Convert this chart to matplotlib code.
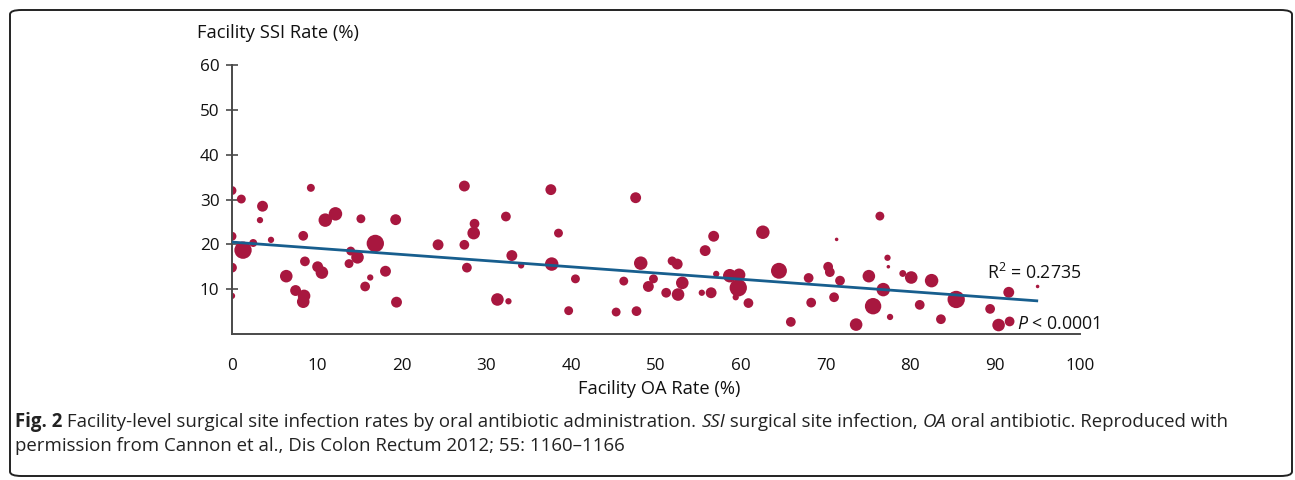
import matplotlib
matplotlib.use("Agg")
import matplotlib.pyplot as plt
from matplotlib.patches import FancyBboxPatch

# ---------------- data ----------------
oa_rate = [0, 1.1, 9.3, 3.6, 3.3, 11.0, 12.2, 15.2, 19.3, 0, 1.3, 2.5, 4.6, 8.4,
           0, 0, 8.6, 6.4, 7.5, 8.5, 8.4, 10.1, 10.6, 14.0, 14.8, 13.8, 16.3,
           15.7, 16.9, 18.1, 19.4, 27.4, 37.6, 32.3, 28.6, 28.5, 38.5, 24.3,
           27.4, 33.0, 34.1, 37.7, 27.7, 40.5, 46.2, 31.3, 32.6, 39.7, 45.3,
           47.6, 56.8, 62.6, 55.8, 48.2, 51.9, 52.5, 49.7, 49.1, 53.1, 51.2,
           52.6, 55.4, 56.5, 57.1, 58.7, 59.8, 59.7, 59.4, 60.9, 64.5, 68.0,
           68.3, 65.9, 47.7, 71.3, 70.3, 70.5, 71.7, 71.0, 76.4, 77.3, 77.4,
           75.1, 76.8, 75.6, 77.6, 73.6, 79.1, 80.1, 82.5, 81.1, 83.6, 85.4,
           89.4, 91.6, 90.4, 91.7, 95.0]
ssi_rate = [32.0, 30.1, 32.6, 28.5, 25.4, 25.4, 26.8, 25.7, 25.5, 21.8, 18.7,
            20.3, 21.0, 21.9, 14.8, 8.5, 16.2, 12.9, 9.7, 8.5, 7.2, 15.0, 13.7,
            18.5, 17.1, 15.7, 12.6, 10.6, 20.2, 14.0, 7.1, 33.0, 32.2, 26.2,
            24.6, 22.5, 22.5, 19.9, 19.9, 17.5, 15.3, 15.6, 14.8, 12.3, 11.8,
            7.7, 7.3, 5.2, 4.9, 30.4, 21.8, 22.7, 18.6, 15.8, 16.3, 15.6, 12.3,
            10.6, 11.4, 9.2, 8.8, 9.2, 9.2, 13.4, 13.0, 13.2, 10.3, 8.2, 6.9,
            14.1, 12.5, 7.0, 2.7, 5.1, 21.1, 15.0, 13.8, 11.9, 8.2, 26.3, 17.0,
            15.0, 12.9, 9.9, 6.2, 3.8, 2.1, 13.5, 12.6, 11.9, 6.5, 3.3, 7.7,
            5.6, 9.3, 2.0, 2.8, 10.6]
facility_volume = [50, 50, 40, 75, 25, 115, 115, 50, 75, 50, 190, 40, 25, 60,
                   60, 25, 60, 100, 75, 100, 100, 75, 100, 50, 100, 50, 25, 60,
                   190, 75, 75, 75, 75, 60, 60, 100, 50, 75, 60, 75, 25, 115,
                   60, 50, 50, 100, 25, 50, 50, 75, 75, 115, 75, 115, 50, 75,
                   50, 75, 100, 60, 100, 25, 75, 25, 115, 100, 190, 25, 60, 160,
                   60, 60, 60, 60, 8, 60, 60, 60, 60, 50, 25, 8, 100, 115, 170,
                   25, 100, 30, 100, 115, 60, 60, 190, 60, 75, 100, 60, 8]
fit_x = [0, 94.9]
fit_y = [20.5, 7.4]
x_ticks = [0, 10, 20, 30, 40, 50, 60, 70, 80, 90, 100]
y_ticks = [10, 20, 30, 40, 50, 60]
r_squared = "0.2735"
p_value = "0.0001"

# ---------------- style ----------------
FONT = "Open Sans"
plt.rcParams['font.family'] = [FONT, 'DejaVu Sans']
plt.rcParams['mathtext.fontset'] = 'custom'
plt.rcParams['mathtext.rm'] = FONT
plt.rcParams['mathtext.it'] = FONT + ':italic'
DOT = "#A8173F"
LINE = "#175E8E"
AX = "#4a4a4a"
TXT = "#111111"

W, H = 1295, 480
fig = plt.figure(figsize=(W / 100, H / 100), dpi=100)

def fx(px):
    return px / W

def fy(py):
    return 1 - py / H

# frame
frame = FancyBboxPatch((fx(10), fy(476)), fx(1292) - fx(10), fy(10) - fy(476),
                       boxstyle="round,pad=0,rounding_size=0.009",
                       transform=fig.transFigure, fill=False,
                       edgecolor="#222222", linewidth=1.4)
fig.patches.append(frame)

ax = fig.add_axes([fx(232), fy(334), fx(1080) - fx(232), fy(65) - fy(334)])
ax.set_xlim(0, 100)
ax.set_ylim(0, 60)

sizes = [v * 0.82 for v in facility_volume]
ax.scatter(oa_rate, ssi_rate, s=sizes, color=DOT, linewidths=0, zorder=2)
ax.plot(fit_x, fit_y, color=LINE, linewidth=2.0, zorder=3)

for s in ['top', 'right']:
    ax.spines[s].set_visible(False)
for s in ['left', 'bottom']:
    ax.spines[s].set_color(AX)
    ax.spines[s].set_linewidth(1.4)

ax.set_xticks(x_ticks)
ax.set_xticklabels([str(t) for t in x_ticks])
ax.set_yticks(y_ticks)
ax.set_yticklabels([str(t) for t in y_ticks])
ax.tick_params(axis='x', length=0, pad=17, labelsize=12.3, colors=TXT)
ax.tick_params(axis='y', direction='inout', length=8, width=1.2, color=AX,
               pad=5, labelsize=12.3, labelcolor=TXT)

fig.text(fx(197), fy(33), "Facility SSI Rate (%)", fontsize=13.2,
         va='center', ha='left', color=TXT)
fig.text(fx(659), fy(389), "Facility OA Rate (%)", fontsize=13.2,
         va='center', ha='center', color=TXT)

ax.text(89.0, 12.2, r"R$^{2}$ = " + r_squared, fontsize=12.8,
        ha='left', va='baseline', color=TXT)
ax.text(92.6, 1.1, "$\\mathit{P}$ < " + p_value, fontsize=12.8,
        ha='left', va='baseline', color=TXT)

# caption with mixed styles
renderer = fig.canvas.get_renderer()
line1 = [("Fig. 2", dict(fontweight='bold')),
         (" Facility-level surgical site infection rates by oral antibiotic administration. ", {}),
         ("SSI", dict(style='italic')),
         (" surgical site infection, ", {}),
         ("OA", dict(style='italic')),
         (" oral antibiotic. Reproduced with", {})]
line2 = [("permission from Cannon et al., Dis Colon Rectum 2012; 55: 1160\u20131166", {})]

def run(pieces, x0, ybase, size, draw=True):
    x = x0
    made = []
    for txt, kw in pieces:
        t = fig.text(fx(x), fy(ybase), txt, fontsize=size, va='baseline',
                     ha='left', color='#222222', **kw)
        bb = t.get_window_extent(renderer=renderer)
        x += bb.width
        made.append(t)
    if not draw:
        for t in made:
            t.remove()
    return x - x0

base = 11.0
w = run(line1, 15, 427, base, draw=False)
cap_size = base * (1232 - 15) / w
run(line1, 15, 427, cap_size)
run(line2, 15, 451, cap_size)

fig.savefig("out.png", dpi=100)
